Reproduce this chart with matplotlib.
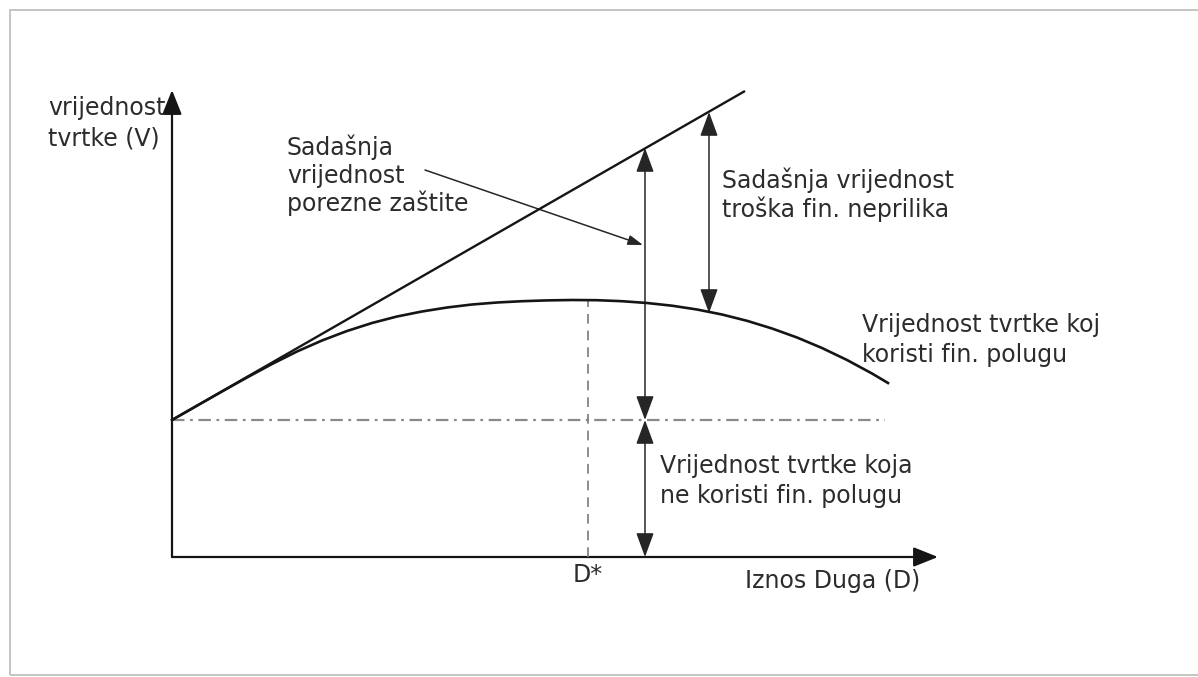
import numpy as np
import matplotlib
matplotlib.use("Agg")
import matplotlib.pyplot as plt
from matplotlib.patches import FancyArrowPatch, Rectangle
from matplotlib.transforms import Bbox, TransformedBbox

plt.rcParams['font.family'] = ['DejaVu Sans']
plt.rcParams['lines.scale_dashes'] = False

# vrijednost tvrtke bez duga (V_U)
v_unlevered = 1.37
# pravac: V_U + sadasnja vrijednost porezne zastite
line_d = [0.0, 5.73]
line_v = [1.37, 4.66]
# krivulja: vrijednost tvrtke koja koristi fin. polugu (ocitano sa slike)
curve_d = [0.0, 0.25, 0.5, 0.75, 1.0, 1.25, 1.5, 1.75, 2.0, 2.25, 2.5, 2.75,
           3.0, 3.25, 3.5, 3.75, 4.0, 4.25, 4.5, 4.75, 5.0, 5.25, 5.5, 5.75,
           6.0, 6.25, 6.5, 6.75, 7.0, 7.16]
curve_v = [1.370, 1.513, 1.655, 1.795, 1.930, 2.055, 2.165, 2.260, 2.340,
           2.405, 2.455, 2.495, 2.525, 2.545, 2.558, 2.566, 2.570, 2.568,
           2.558, 2.540, 2.513, 2.475, 2.425, 2.362, 2.285, 2.195, 2.090,
           1.970, 1.835, 1.740]
d_star = 4.16
v_at_dstar = 2.57
hline_end = 7.13
# strelice s dvije glave (x, od, do)
arrow_tax = (4.73, 1.37, 4.09)
arrow_unlev = (4.73, 0.0, 1.37)
arrow_distress = (5.37, 2.44, 4.45)
pointer_from = (2.53, 3.87)
pointer_to = (4.71, 3.12)
x_axis_end = 7.66
y_axis_end = 4.67

fig = plt.figure(figsize=(11.98, 6.77), dpi=100)
ax = fig.add_axes([0, 0, 1, 1])
ax.set_xlim(-1.72, 10.26)
ax.set_ylim(-1.20, 5.57)
ax.axis('off')

# okvir slike
fig.patches.append(Rectangle((10 / 1198, 2 / 677), 1.2, 665 / 677,
                             transform=fig.transFigure, fill=False,
                             ec='#c4c4c4', lw=1.4, clip_on=False))

dark = '#151515'
txt = '#2c2c2c'
fs = 17


def arrow(p0, p1, style, color=dark, lw=1.6, hl=15, hw=5.5):
    a = FancyArrowPatch(p0, p1, arrowstyle=f'{style},head_length={hl},head_width={hw}',
                        mutation_scale=1, shrinkA=0, shrinkB=0,
                        color=color, lw=lw)
    ax.add_patch(a)


# osi
arrow((0, 0), (x_axis_end, 0), '-|>', lw=1.6, hl=15, hw=6)
arrow((0, 0), (0, y_axis_end), '-|>', lw=1.6, hl=15, hw=6)

# isprekidane linije
ax.plot([0, hline_end], [v_unlevered, v_unlevered], color='#8a8a8a', lw=1.6,
        dashes=(9, 4, 2, 4))
ax.plot([d_star, d_star], [0, v_at_dstar], color='#7a7a7a', lw=1.2,
        dashes=(7, 5))

# pravac i krivulja
ax.plot(line_d, line_v, color=dark, lw=1.7, solid_capstyle='butt')
ax.plot(curve_d, curve_v, color=dark, lw=1.9, solid_joinstyle='round')

# strelice
for xa, v0, v1 in (arrow_tax, arrow_unlev, arrow_distress):
    arrow((xa, v0), (xa, v1), '<|-|>', color='#262626', lw=1.1, hl=15, hw=5.5)
arrow(pointer_from, pointer_to, '-|>', color='#262626', lw=1.1, hl=9, hw=3)


def label(x, y, lines, dy=0.30, clip=None, **kw):
    for i, s in enumerate(lines):
        t = ax.text(x, y - i * dy, s, fontsize=fs, color=txt, va='baseline', **kw)
        if clip is not None:
            t.set_clip_box(clip)
            t.set_clip_on(True)


label(-1.24, 4.42, ['vrijednost', 'tvrtke (V)'])
label(1.15, 4.02, ['Sadašnja', 'vrijednost', 'porezne zaštite'], dy=0.28)
label(5.50, 3.69, ['Sadašnja vrijednost', 'troška fin. neprilika'], dy=0.29)
clipbox = TransformedBbox(Bbox([[-2, -2], [9.28, 6]]), ax.transData)
label(6.90, 2.25, ['Vrijednost tvrtke koja', 'koristi fin. polugu'], clip=clipbox)
label(4.88, 0.84, ['Vrijednost tvrtke koja', 'ne koristi fin. polugu'])
ax.text(d_star, -0.25, 'D*', fontsize=fs, color=txt, va='baseline', ha='center')
ax.text(5.73, -0.31, 'Iznos Duga (D)', fontsize=fs, color=txt, va='baseline')

fig.savefig('out.png', dpi=100)
